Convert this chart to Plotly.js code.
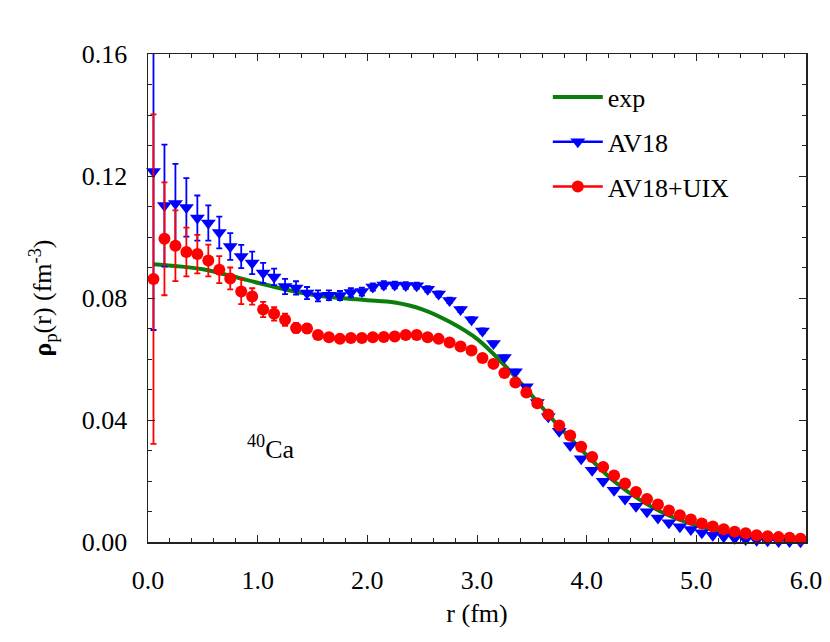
<!DOCTYPE html>
<html><head><meta charset="utf-8">
<script src="https://cdn.plot.ly/plotly-3.0.1.min.js"></script>
<style>html,body{margin:0;padding:0;background:#fff}</style>
</head><body><div id="chart" style="width:830px;height:642px"></div>
<script>
// experimental density (line)
const r_exp = [0.05,0.25,0.50,0.75,1.00,1.25,1.50,1.75,2.00,2.25,2.50,2.75,3.00,3.25,3.50,3.75,4.00,4.25,4.50,4.75,5.00,5.25,5.50,5.75,6.00];
const rho_exp = [0.0911,0.0905,0.0894,0.0873,0.0850,0.0828,0.0811,0.0800,0.0793,0.0785,0.0763,0.0722,0.0666,0.0580,0.0480,0.0378,0.0285,0.0199,0.0135,0.0087,0.0055,0.0035,0.0024,0.0017,0.0012];

// calculated densities
const r_calc = [0.05,0.15,0.25,0.35,0.45,0.55,0.65,0.75,0.85,0.95,
                1.05,1.15,1.25,1.35,1.45,1.55,1.65,1.75,1.85,1.95,
                2.05,2.15,2.25,2.35,2.45,2.55,2.65,2.75,2.85,2.95,
                3.05,3.15,3.25,3.35,3.45,3.55,3.65,3.75,3.85,3.95,
                4.05,4.15,4.25,4.35,4.45,4.55,4.65,4.75,4.85,4.95,
                5.05,5.15,5.25,5.35,5.45,5.55,5.65,5.75,5.85,5.95];
const rho_av18 = [0.1215,0.1103,0.1110,0.1097,0.1062,0.1046,0.1015,0.0969,0.0936,0.0915,
                  0.0882,0.0869,0.0838,0.0833,0.0816,0.0807,0.0809,0.0808,0.0818,0.0821,
                  0.0836,0.0843,0.0843,0.0841,0.0840,0.0829,0.0813,0.0792,0.0762,0.0729,
                  0.0692,0.0651,0.0605,0.0558,0.0509,0.0457,0.0411,0.0363,0.0316,0.0273,
                  0.0235,0.0199,0.0170,0.0141,0.0117,0.0099,0.0079,0.0063,0.0050,0.0041,
                  0.0030,0.0022,0.0017,0.0012,0.0008,0.0006,0.0004,0.0002,0.0002,0.0001];
const err_av18 = [0.0520,0.0200,0.0130,0.0096,0.0074,0.0058,0.0052,0.0044,0.0038,0.0037,
                  0.0033,0.0027,0.0025,0.0022,0.0020,0.0018,0.0016,0.0015,0.0014,0.0013,
                  0.0012,0.0012,0.0011,0.0011,0.0010,0.0010,0.0009,0.0009,0.0008,0.0008,
                  0.0008,0.0007,0.0007,0.0007,0.0006,0.0006,0.0006,0.0005,0.0005,0.0005,
                  0.0004,0.0004,0.0004,0.0003,0.0003,0.0003,0.0003,0.0002,0.0002,0.0002,
                  0.0002,0.0002,0.0001,0.0001,0.0001,0.0001,0.0001,0.0001,0.0001,0.0001];
const rho_uix = [0.0862,0.0994,0.0971,0.0951,0.0944,0.0923,0.0893,0.0864,0.0821,0.0805,
                 0.0762,0.0748,0.0729,0.0702,0.0700,0.0679,0.0671,0.0666,0.0669,0.0669,
                 0.0671,0.0672,0.0674,0.0679,0.0679,0.0671,0.0666,0.0654,0.0641,0.0628,
                 0.0603,0.0584,0.0554,0.0523,0.0490,0.0455,0.0418,0.0382,0.0349,0.0312,
                 0.0279,0.0246,0.0218,0.0192,0.0164,0.0141,0.0123,0.0103,0.0088,0.0074,
                 0.0061,0.0051,0.0042,0.0034,0.0029,0.0022,0.0019,0.0016,0.0014,0.0011];
const err_uix = [0.0540,0.0185,0.0116,0.0080,0.0063,0.0052,0.0044,0.0036,0.0041,0.0027,
                 0.0025,0.0022,0.0020,0.0016,0.0015,0.0013,0.0012,0.0011,0.0010,0.0010,
                 0.0009,0.0009,0.0009,0.0008,0.0008,0.0008,0.0007,0.0007,0.0007,0.0006,
                 0.0006,0.0006,0.0005,0.0005,0.0005,0.0005,0.0004,0.0004,0.0004,0.0004,
                 0.0003,0.0003,0.0003,0.0003,0.0003,0.0002,0.0002,0.0002,0.0002,0.0002,
                 0.0002,0.0001,0.0001,0.0001,0.0001,0.0001,0.0001,0.0001,0.0001,0.0001];

const names = ['exp','AV18','AV18+UIX'];
const FONT = 'Liberation Serif';
const GREEN = '#0b7d0b', BLUE = '#0000ff', RED = '#ff0000', AX = '#222222';
const CLEAR = 'rgba(0,0,0,0)';

const traces = [
  {x: r_exp, y: rho_exp, mode: 'lines', line: {color: GREEN, width: 4, shape: 'spline', smoothing: 1},
   name: names[0], legendgroup: 'g0', showlegend: true, hoverinfo: 'skip'},
  // AV18: error bars (clipped to the frame), then markers (allowed to overhang the frame)
  {x: r_calc, y: rho_av18, mode: 'markers', name: names[1], legendgroup: 'g1', showlegend: false,
   marker: {symbol: 'circle', size: 2, color: CLEAR},
   error_y: {type: 'data', array: err_av18, visible: true, color: BLUE, thickness: 1.8, width: 3}},
  {x: r_calc, y: rho_av18, mode: 'markers', name: names[1], legendgroup: 'g1', showlegend: false,
   cliponaxis: false, marker: {symbol: 'triangle-down', size: 13, color: BLUE}},
  // AV18+UIX
  {x: r_calc, y: rho_uix, mode: 'markers', name: names[2], legendgroup: 'g2', showlegend: false,
   marker: {symbol: 'circle', size: 2, color: CLEAR},
   error_y: {type: 'data', array: err_uix, visible: true, color: RED, thickness: 1.8, width: 3}},
  {x: r_calc, y: rho_uix, mode: 'markers', name: names[2], legendgroup: 'g2', showlegend: false,
   cliponaxis: false, marker: {symbol: 'circle', size: 12, color: RED}},
  // legend entries (line + marker look of the error-bar series)
  {x: [null], y: [null], mode: 'lines+markers', name: names[1], legendgroup: 'g1', showlegend: true,
   line: {color: BLUE, width: 2.5}, marker: {symbol: 'triangle-down', size: 13, color: BLUE}},
  {x: [null], y: [null], mode: 'lines+markers', name: names[2], legendgroup: 'g2', showlegend: true,
   line: {color: RED, width: 2.5}, marker: {symbol: 'circle', size: 12, color: RED}}
];

const axisCommon = {
  showline: true, linecolor: AX, linewidth: 1.5, mirror: 'ticks',
  ticks: 'inside', ticklen: 7, tickwidth: 1, tickcolor: AX,
  showgrid: false, zeroline: false,
  tickfont: {family: FONT, size: 26, color: '#000'}
};

const layout = {
  width: 830, height: 642,
  margin: {l: 148, r: 24, t: 54, b: 100},
  paper_bgcolor: '#fff', plot_bgcolor: '#fff',
  font: {family: FONT, size: 26, color: '#000'},
  showlegend: true,
  legend: {x: 0.6076, y: 0.96, xanchor: 'left', yanchor: 'top', bgcolor: CLEAR,
           font: {family: FONT, size: 26, color: '#000'}, traceorder: 'grouped', tracegroupgap: 8,
           itemwidth: 50},
  xaxis: Object.assign({}, axisCommon, {
    range: [0, 6], tick0: 0, dtick: 1, tickformat: '.1f', ticklabelstandoff: 14,
    minor: {dtick: 0.2, ticks: 'inside', ticklen: 4, tickcolor: AX, showgrid: false},
    title: {text: 'r (fm)', font: {family: FONT, size: 26, color: '#000'}, standoff: 10}
  }),
  yaxis: Object.assign({}, axisCommon, {
    range: [0, 0.16], tick0: 0, dtick: 0.04, tickformat: '.2f', ticklabelstandoff: 14,
    minor: {dtick: 0.01, ticks: 'inside', ticklen: 4, tickcolor: AX, showgrid: false},
    title: {text: '<b>ρ</b><sub>p</sub>(r) (fm<sup>-3</sup>)', font: {family: FONT, size: 26, color: '#000'}, standoff: 22}
  }),
  annotations: [{
    x: 1.12, y: 0.031, xref: 'x', yref: 'y', showarrow: false,
    text: '<sup>40</sup>Ca', font: {family: FONT, size: 26, color: '#000'}
  }]
};

Plotly.newPlot('chart', traces, layout, {displayModeBar: false, staticPlot: true});
</script>
</body></html>
